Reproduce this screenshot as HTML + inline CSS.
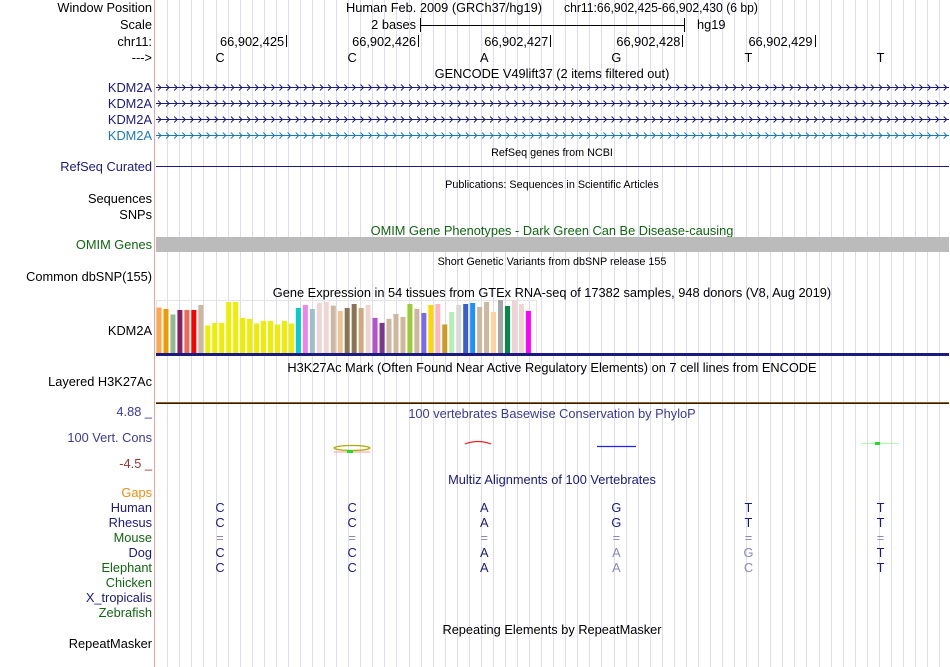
<!DOCTYPE html>
<html><head><meta charset="utf-8"><style>
body{margin:0;background:#fff;}
svg{display:block;font-family:"Liberation Sans",sans-serif;}
</style></head><body>
<svg id="s" width="950" height="667" viewBox="0 0 950 667">
<g id="grid"></g>
<line x1="154.5" y1="0" x2="154.5" y2="667" stroke="#f5a0a0"/>
<g font-size="12.8" text-anchor="end">
<text x="152" y="12">Window Position</text>
<text x="152" y="29">Scale</text>
<text x="152" y="46">chr11:</text>
<text x="152" y="62">---&gt;</text>
<text x="152" y="92" fill="#1a1a80">KDM2A</text>
<text x="152" y="108" fill="#1a1a80">KDM2A</text>
<text x="152" y="124" fill="#1a1a80">KDM2A</text>
<text x="152" y="140" fill="#1a7ab8">KDM2A</text>
<text x="152" y="171" fill="#1a1a80">RefSeq Curated</text>
<text x="152" y="203">Sequences</text>
<text x="152" y="219">SNPs</text>
<text x="152" y="249" fill="#116611">OMIM Genes</text>
<text x="152" y="281">Common dbSNP(155)</text>
<text x="152" y="335">KDM2A</text>
<text x="152" y="386">Layered H3K27Ac</text>
<text x="152" y="442" fill="#3a3a99">100 Vert. Cons</text>
<text x="152" y="416" fill="#3a3a99">4.88 _</text>
<text x="152" y="468" fill="#993333">-4.5 _</text>
<text x="152" y="497" fill="#f08c10">Gaps</text>
<text x="152" y="512" fill="#1a1a80">Human</text>
<text x="152" y="527" fill="#1a1a80">Rhesus</text>
<text x="152" y="542" fill="#116611">Mouse</text>
<text x="152" y="557" fill="#1a1a80">Dog</text>
<text x="152" y="572" fill="#116611">Elephant</text>
<text x="152" y="587" fill="#116611">Chicken</text>
<text x="152" y="602" fill="#1a1a80">X_tropicalis</text>
<text x="152" y="617" fill="#116611">Zebrafish</text>
<text x="152" y="648">RepeatMasker</text>
</g>
<g font-size="12.8">
<text x="346" y="12" textLength="196" lengthAdjust="spacingAndGlyphs">Human Feb. 2009 (GRCh37/hg19)</text>
<text x="564" y="12" textLength="194" lengthAdjust="spacingAndGlyphs">chr11:66,902,425-66,902,430 (6 bp)</text>
<text x="416" y="29" text-anchor="end">2 bases</text>
<line x1="420.5" y1="18" x2="420.5" y2="32" stroke="#000"/>
<line x1="420" y1="25.5" x2="684" y2="25.5" stroke="#000"/>
<line x1="684.5" y1="18" x2="684.5" y2="32" stroke="#000"/>
<text x="697" y="29">hg19</text>
<text x="552" y="78" text-anchor="middle">GENCODE V49lift37 (2 items filtered out)</text>
<text x="552" y="188" text-anchor="middle" font-size="10.8">Publications: Sequences in Scientific Articles</text>
<text x="552" y="156" text-anchor="middle" font-size="10.8">RefSeq genes from NCBI</text>
<text x="552" y="235" text-anchor="middle" fill="#116611">OMIM Gene Phenotypes - Dark Green Can Be Disease-causing</text>
<text x="552" y="265" text-anchor="middle" font-size="10.8">Short Genetic Variants from dbSNP release 155</text>
<text x="552" y="297" text-anchor="middle">Gene Expression in 54 tissues from GTEx RNA-seq of 17382 samples, 948 donors (V8, Aug 2019)</text>
<text x="552" y="372" text-anchor="middle">H3K27Ac Mark (Often Found Near Active Regulatory Elements) on 7 cell lines from ENCODE</text>
<text x="552" y="418" text-anchor="middle" fill="#3a3a99">100 vertebrates Basewise Conservation by PhyloP</text>
<text x="552" y="484" text-anchor="middle" fill="#1a1a80">Multiz Alignments of 100 Vertebrates</text>
<text x="552" y="634" text-anchor="middle">Repeating Elements by RepeatMasker</text>
</g>
<g id="pos" font-size="12.8"></g>
<g id="genc"></g>
<line x1="156" y1="166.5" x2="949" y2="166.5" stroke="#1a1a80"/>
<rect x="156" y="237" width="793" height="15" fill="#bbbbbb"/>
<rect x="156.5" y="300.5" width="380" height="53" fill="none" stroke="#e4e4e4"/>
<g id="gtex"></g>
<rect x="156" y="353" width="793" height="3" fill="#1a1a80"/>
<line x1="156" y1="402.5" x2="949" y2="402.5" stroke="#a05a00"/>
<line x1="156" y1="403.5" x2="949" y2="403.5" stroke="#222"/>
<g>
<ellipse cx="352" cy="448" rx="18" ry="2.5" fill="none" stroke="#aaaa00" stroke-width="1.3"/>
<line x1="334" y1="452" x2="370" y2="452" stroke="#ff9999"/>
<rect x="347" y="450" width="6" height="3" fill="#22dd22"/>
<path d="M355,444 Q368,439 381,444" fill="none" stroke="#ee2222" stroke-width="1.2" transform="translate(110,0)"/>
<line x1="597" y1="446.5" x2="636" y2="446.5" stroke="#2222ee" stroke-width="1.3"/>
<line x1="862" y1="443.5" x2="898" y2="443.5" stroke="#aaffaa"/>
<rect x="875" y="442" width="5" height="3" fill="#22dd22"/>
</g>
<g id="aln" font-size="12.8" text-anchor="middle"></g>
</svg>
<script>
const NS="http://www.w3.org/2000/svg";
const svg=document.getElementById('s');
function mk(t,a,p){const e=document.createElementNS(NS,t);for(const k in a)e.setAttribute(k,a[k]);(p||svg).appendChild(e);return e;}
const grid=document.getElementById('grid');
for(let i=0;i<65;i++){const x=Math.round(167.3+i*12.06)+0.5;
const l=mk('line',{x1:x,y1:0,x2:x,y2:667,stroke:'#dcdcf4'},grid);

}
const genc=document.getElementById('genc');
[[87.5,'#1a1a80'],[103.5,'#1a1a80'],[119.5,'#1a1a80'],[135.5,'#1a7ab8']].forEach(([y,c])=>{
let d='M156,'+y+' L949,'+y;
for(let x=158;x<946;x+=8.1){d+=' M'+x.toFixed(1)+','+(y-3)+' l3,3 l-3,3';}
const p=mk('path',{d:d,stroke:c,fill:'none','stroke-width':1},genc);

});
const bases=["C","C","A","G","T","T"];
const posLabels=["66,902,425","66,902,426","66,902,427","66,902,428","66,902,429"];
const baseW=132.1, x0=154;
const pos=document.getElementById('pos');
posLabels.forEach((s,i)=>{const tx=x0+baseW*(i+1);
const t=mk('text',{x:tx-2,y:46,'text-anchor':'end'},pos);t.textContent=s;


const l=mk('line',{x1:Math.round(tx)+0.5,y1:35,x2:Math.round(tx)+0.5,y2:47,stroke:'#000'},pos);

});
bases.forEach((b,i)=>{const t=mk('text',{x:x0+baseW*(i+0.5),y:62,'text-anchor':'middle'},pos);t.textContent=b;

});
const species=[["Human",512],["Rhesus",527],["Mouse",542],["Dog",557],["Elephant",572]];
const alnRows={Human:"CCAGTT",Rhesus:"CCAGTT",Mouse:"======",Dog:"CCAAGT",Elephant:"CCAACT"};
const dim={Mouse:"111111",Dog:"000110",Elephant:"000110"};
const aln=document.getElementById('aln');
species.forEach(([sp,y])=>{const s=alnRows[sp];for(let i=0;i<6;i++){
const d=dim[sp]&&dim[sp][i]==="1";
const t=mk('text',{x:x0+baseW*(i+0.5),y:y,fill:d?'#8888bb':'#1a1a80'},aln);t.textContent=s[i];

}});
const gtexValues=[45.7,44.3,38.7,43.3,43.3,43.3,48.3,27.7,30.3,30.3,51.3,51.3,35.3,34.3,29.7,32.3,32.3,28.7,32.3,29.7,45.3,48.3,44.3,50.3,51.3,47.7,42.3,45.3,49.3,45.3,48.3,35.3,30.3,34.3,39.3,36.3,49.3,44.3,40.3,48.3,49.3,28.7,41.3,48.3,49.3,50.3,46.3,51.3,41.3,53.3,47.3,53.3,49.3,42.3];
const gtexColors=["#ffa54f","#ee9a00","#8fbc8f","#8b1c62","#ee6a50","#ff0000","#cdb79e","#eeee00","#eeee00","#eeee00","#eeee00","#eeee00","#eeee00","#eeee00","#eeee00","#eeee00","#eeee00","#eeee00","#eeee00","#eeee00","#00ced1","#ee82ee","#9ac0cd","#eed5d2","#eed5d2","#cdb79e","#eec591","#8b7355","#8b7355","#cdaa7d","#eed5d2","#b452cd","#7a378b","#cdb79e","#cdb79e","#cdb79e","#9acd32","#cdb79e","#7b68ee","#ffd700","#ffb6c1","#cd9b1d","#b4eeb4","#d9d9d9","#3a5fcd","#1e90ff","#cdb79e","#cdb79e","#ffd39b","#a6a6a6","#008b45","#eed5d2","#eed5d2","#ff00ff"];
const gMax=53.3, gBase=353, gH=53, gX0=156.5, gStep=6.97;
const yS=v=>gH*v/gMax;
const gtex=document.getElementById('gtex');
gtexValues.forEach((v,i)=>{const h=yS(v);
const r=mk('rect',{x:gX0+i*gStep,y:gBase-h,width:5,height:h,fill:gtexColors[i]},gtex);

});
</script>
</body></html>
